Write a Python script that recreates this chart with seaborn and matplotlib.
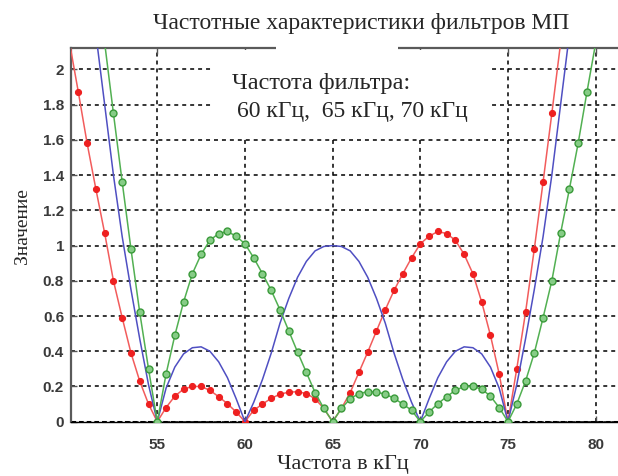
import numpy as np
import matplotlib
matplotlib.use("Agg")
import matplotlib.pyplot as plt
import seaborn as sns
from matplotlib.patches import Rectangle

# ------------------------------------------------------------
# Data (step 0.5 kHz)
# ------------------------------------------------------------
freq_khz = [50.0 + 0.5 * i for i in range(64)]   # 50 ... 81.5

# filter 70 kHz (red, dots)
resp_70 = [2.15, 1.87, 1.58, 1.32, 1.07, 0.80, 0.59, 0.39, 0.23, 0.10,
           0.0, 0.08, 0.145, 0.185, 0.20, 0.20, 0.178, 0.142, 0.102, 0.055,
           0.0, 0.065, 0.10, 0.133, 0.156, 0.168, 0.17, 0.16, 0.13, 0.075,
           0.0, 0.075, 0.165, 0.28, 0.395, 0.515, 0.635, 0.745, 0.84, 0.93,
           1.01, 1.053, 1.08, 1.068, 1.03, 0.95, 0.84, 0.68, 0.49, 0.27,
           0.0, 0.30, 0.62, 0.98, 1.36, 1.75, 2.15, 2.55, 2.95, 3.35,
           3.75, 4.15, 4.55, 4.95]

# filter 65 kHz (blue, plain line)
resp_65 = [3.4, 3.0, 2.6, 2.2, 1.8, 1.4, 1.05, 0.75, 0.47, 0.21,
           0.0, 0.19, 0.31, 0.385, 0.42, 0.425, 0.40, 0.34, 0.25, 0.13,
           0.0, 0.11, 0.24, 0.39, 0.56, 0.70, 0.82, 0.91, 0.97, 0.995,
           1.0, 0.995, 0.97, 0.91, 0.82, 0.70, 0.56, 0.39, 0.24, 0.11,
           0.0, 0.13, 0.25, 0.34, 0.40, 0.425, 0.42, 0.385, 0.31, 0.19,
           0.0, 0.21, 0.47, 0.75, 1.05, 1.4, 1.8, 2.2, 2.6, 3.0,
           3.4, 3.8, 4.2, 4.6]

# filter 60 kHz (green, open circles)
resp_60 = [3.75, 3.35, 2.95, 2.55, 2.15, 1.75, 1.36, 0.98, 0.62, 0.30,
           0.0, 0.27, 0.49, 0.68, 0.84, 0.95, 1.03, 1.068, 1.08, 1.053,
           1.01, 0.93, 0.84, 0.745, 0.635, 0.515, 0.395, 0.28, 0.165, 0.075,
           0.0, 0.075, 0.13, 0.16, 0.17, 0.168, 0.156, 0.133, 0.10, 0.065,
           0.0, 0.055, 0.102, 0.142, 0.178, 0.20, 0.20, 0.185, 0.145, 0.08,
           0.0, 0.10, 0.23, 0.39, 0.59, 0.80, 1.07, 1.32, 1.58, 1.87,
           2.15, 2.45, 2.75, 3.05]

x_ticks = [55, 60, 65, 70, 75, 80]
y_ticks = [0, 0.2, 0.4, 0.6, 0.8, 1.0, 1.2, 1.4, 1.6, 1.8, 2.0]
y_tick_labels = ["0", "0.2", "0.4", "0.6", "0.8", "1", "1.2", "1.4", "1.6", "1.8", "2"]

title_text = "Частотные характеристики фильтров МП"
note_line1 = "Частота фильтра:"
note_line2 = "60 кГц,  65 кГц, 70 кГц"

# ------------------------------------------------------------
# Style
# ------------------------------------------------------------
sns.set_theme(style="white")
plt.rcParams['font.family'] = ['Liberation Serif', 'DejaVu Serif']
tick_font = {'family': ['Liberation Sans Narrow', 'Liberation Sans', 'DejaVu Sans'],
             'size': 11, 'weight': 'bold'}

fig = plt.figure(figsize=(6.18, 4.76), dpi=100)
ax = fig.add_axes([0.1149, 0.1141, 0.885, 0.7844])

sns.lineplot(x=freq_khz, y=resp_70, ax=ax, color="#f25c5c", lw=1.1,
             marker="o", markersize=4.4, markerfacecolor="#ee2020",
             markeredgecolor="#ee2020", zorder=3)
sns.lineplot(x=freq_khz, y=resp_65, ax=ax, color="#4f4fc2", lw=1.1, zorder=3)
sns.lineplot(x=freq_khz, y=resp_60, ax=ax, color="#52b052", lw=1.1,
             marker="o", markersize=5, markerfacecolor="#86cc86",
             markeredgecolor="#3a9a3a", markeredgewidth=1.0, zorder=3)

ax.set_xlim(50.08, 81.27)
ax.set_ylim(0, 2.12)
ax.set_xticks(x_ticks)
ax.set_yticks(y_ticks)
ax.set_yticklabels(y_tick_labels)
for lab in ax.get_xticklabels() + ax.get_yticklabels():
    lab.set_fontfamily(tick_font['family'])
    lab.set_fontsize(tick_font['size'])
    lab.set_fontweight(tick_font['weight'])
    lab.set_color("#3a3a3a")

ax.tick_params(direction="in", length=4, width=1, color="#555555",
               top=True, left=True, bottom=True, right=False)
ax.tick_params(axis="x", pad=12)
ax.tick_params(axis="y", pad=5)

ax.grid(True, color="black", linestyle=(0, (2.2, 2.2)), linewidth=1.3, alpha=0.85)
ax.set_axisbelow(True)
ax.axhline(0, color="black", lw=2.2, linestyle=(0, (1.5, 1)), zorder=2)

for side in ["left", "top"]:
    ax.spines[side].set_color("#5a5a5a")
    ax.spines[side].set_linewidth(1.6)
ax.spines["right"].set_visible(False)
ax.spines["bottom"].set_color("black")
ax.spines["bottom"].set_linewidth(1.0)
ax.set_xlabel("")
ax.set_ylabel("")

# white box behind the note, hides the grid there
ax.add_patch(Rectangle((0.26, 0.765), 0.508, 0.23, transform=ax.transAxes,
                       facecolor="white", edgecolor="none", zorder=1))
# gap in the top frame line seen in the reference
ax.add_patch(Rectangle((0.375, 0.985), 0.223, 0.03, transform=ax.transAxes,
                       facecolor="white", edgecolor="none", zorder=5, clip_on=False))

fig.text(232 / 618, 1 - 83 / 476, note_line1, ha="left", va="center", fontsize=17.5)
fig.text(237 / 618, 1 - 112 / 476, note_line2, ha="left", va="center", fontsize=17)

fig.text(361 / 618, 1 - 23 / 476, title_text, ha="center", va="center", fontsize=17)
fig.text(343 / 618, 1 - 464 / 476, "Частота в кГц", ha="center", va="center", fontsize=16)
fig.text(22 / 618, 1 - 226 / 476, "Значение", ha="center", va="center",
         rotation=90, fontsize=14)

fig.savefig("out.png", dpi=100)
